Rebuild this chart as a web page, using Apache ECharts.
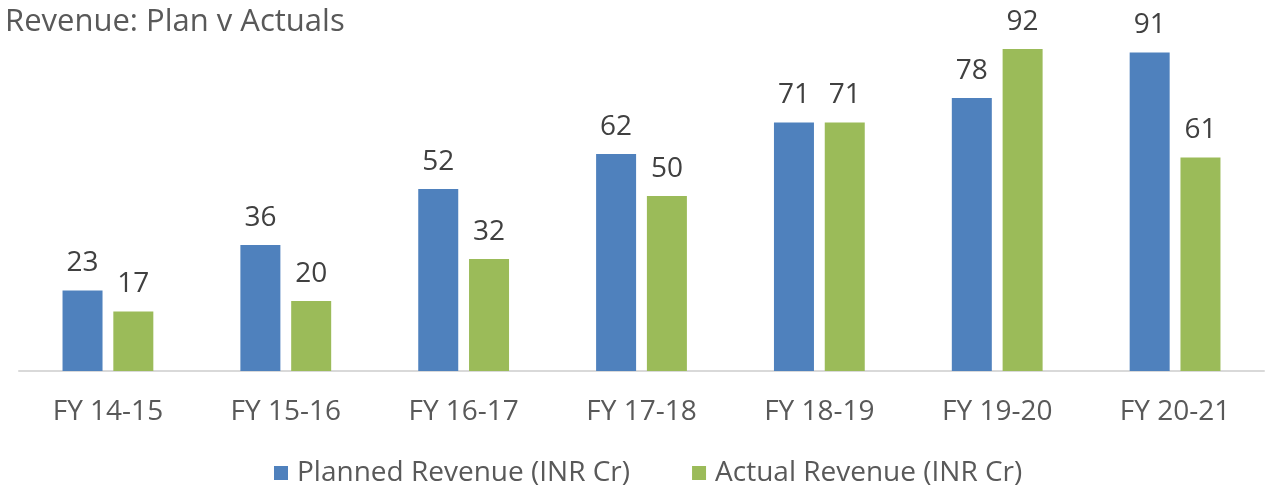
<!DOCTYPE html>
<html>
<head>
<meta charset="utf-8">
<script src="https://cdn.jsdelivr.net/npm/echarts@6/dist/echarts.min.js"></script>
<style>
  html, body { margin: 0; padding: 0; background: #fff; }
  #chart { width: 1271px; height: 494px; }
</style>
</head>
<body>
<div id="chart"></div>
<script>
// Fiscal years on the category axis
const years = ['FY 14-15', 'FY 15-16', 'FY 16-17', 'FY 17-18', 'FY 18-19', 'FY 19-20', 'FY 20-21'];
// Revenue in INR crore
const plannedRevenue = [23, 36, 52, 62, 71, 78, 91];
const actualRevenue = [17, 20, 32, 50, 71, 92, 61];

const FONT = '"Open Sans", "DejaVu Sans", sans-serif';

const chart = echarts.init(document.getElementById('chart'), null, { renderer: 'canvas' });

const labelStyle = {
  show: true,
  position: 'top',
  distance: 13,
  color: '#404040',
  fontFamily: FONT,
  fontSize: 28
};

chart.setOption({
  animation: false,
  title: {
    text: 'Revenue: Plan v Actuals',
    left: 0,
    top: 2,
    textStyle: { fontFamily: FONT, fontSize: 31, fontWeight: 'normal', color: '#595959' }
  },
  legend: {
    bottom: 2,
    left: 269,
    itemWidth: 14,
    itemHeight: 14,
    itemGap: 62,
    icon: 'rect',
    textStyle: { fontFamily: FONT, fontSize: 28, color: '#595959', padding: [0, 0, 0, 4] },
    data: ['Planned Revenue (INR Cr)', 'Actual Revenue (INR Cr)']
  },
  grid: { left: 19, right: 7, top: 21, bottom: 123, containLabel: false },
  xAxis: {
    type: 'category',
    data: years,
    axisLine: { show: true, lineStyle: { color: '#d9d9d9', width: 2 } },
    axisTick: { show: false },
    axisLabel: { margin: 27, color: '#595959', fontFamily: FONT, fontSize: 28 }
  },
  yAxis: {
    type: 'value',
    min: 0,
    max: 100,
    show: false,
    splitLine: { show: false }
  },
  series: [
    {
      name: 'Planned Revenue (INR Cr)',
      type: 'bar',
      data: plannedRevenue,
      barWidth: 40,
      barGap: '27%',
      itemStyle: { color: '#4f81bd' },
      label: labelStyle
    },
    {
      name: 'Actual Revenue (INR Cr)',
      type: 'bar',
      data: actualRevenue,
      barWidth: 40,
      itemStyle: { color: '#9bbb59' },
      label: labelStyle
    }
  ]
});
</script>
</body>
</html>
